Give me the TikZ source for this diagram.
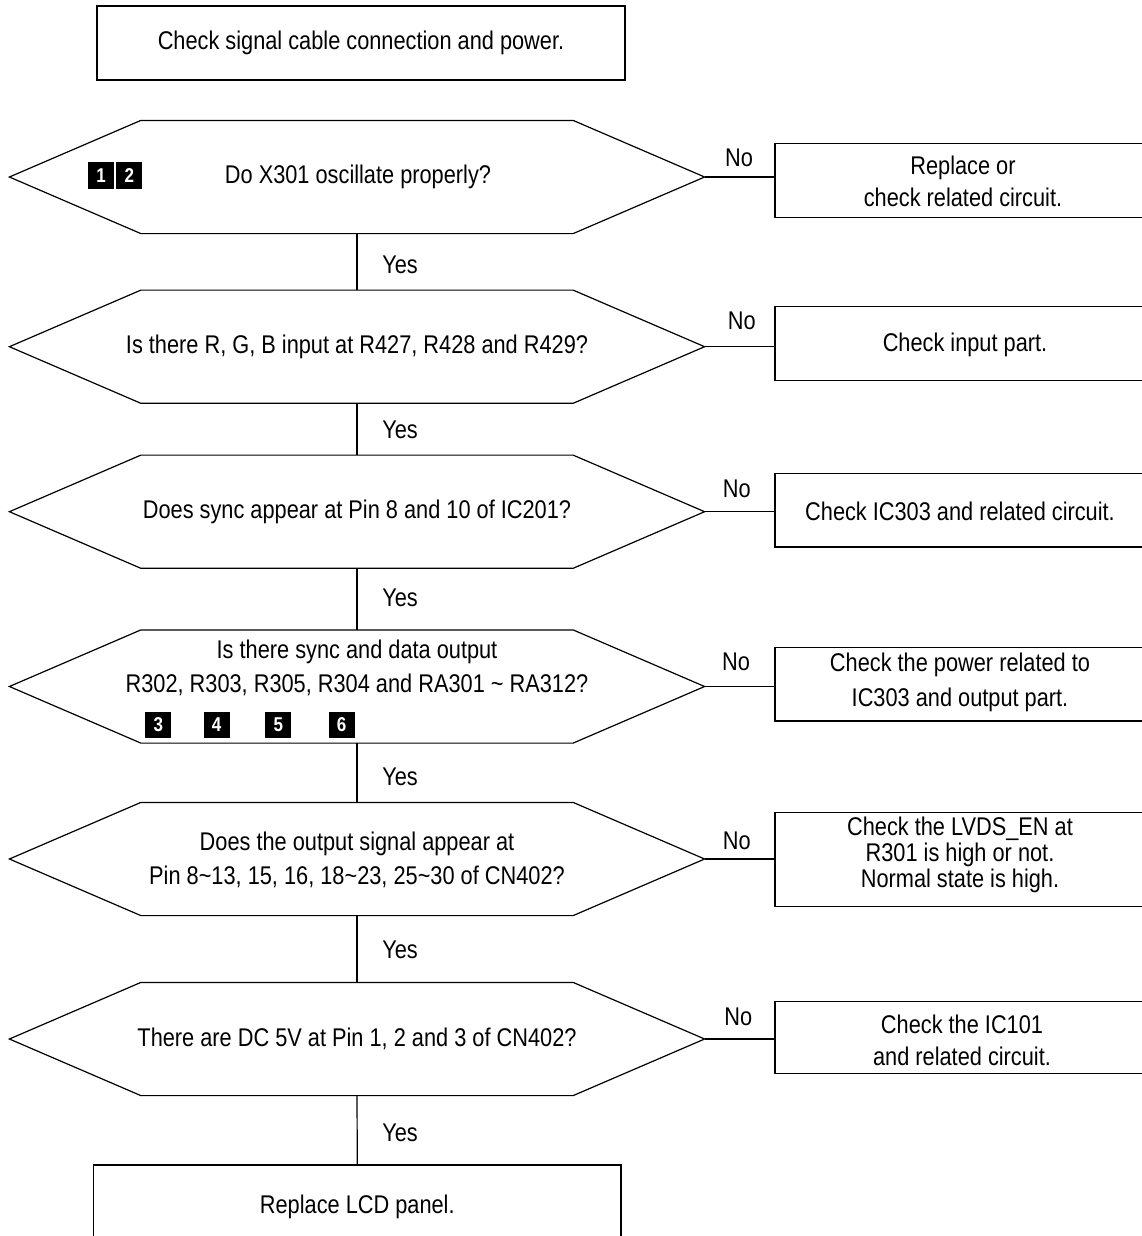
\documentclass[tikz,border=0pt]{standalone}
\usepackage{fontspec}
\setmainfont{Liberation Sans}[FakeStretch=0.85]
\begin{document}
\begin{tikzpicture}[x=0.75pt,y=-0.75pt,
  line width=0.9pt,
  every node/.style={font=\fontsize{19.2}{23}\selectfont, inner sep=0pt},
  hexnode/.style={minimum width=520.5pt, minimum height=84pt},
  boxnode/.style={draw, minimum width=281.25pt},
  txt/.style={align=center},
  badge/.style={fill=black, text=white, minimum width=19.5pt, minimum height=20pt, font=\fontsize{15}{15}\selectfont\bfseries},
  lbl/.style={}]
\clip (0,0) rectangle (1142,1236);
\fill[white] (0,0) rectangle (1142,1236);
% top box
\node[draw, minimum width=396pt, minimum height=55.5pt] (start) at (361,43) {Check signal cable connection and power.};
% hexagons
\foreach \n/\y in {h1/177, h2/346.7, h3/511.7, h4/686.5, h5/859, h6/1039}{
  \node[hexnode] (\n) at (357,\y) {};
  \draw ([xshift=0pt]\n.west) -- ([xshift=98.6pt]\n.north west) -- ([xshift=-98.6pt]\n.north east) -- (\n.east) -- ([xshift=-98.6pt]\n.south east) -- ([xshift=98.6pt]\n.south west) -- cycle;
}
\node[txt] (t1) at (358,177) {Do X301 oscillate properly?};
\node[txt] (t2) at (357,347) {Is there R, G, B input at R427, R428 and R429?};
\node[txt] (t3) at (357,512) {Does sync appear at Pin 8 and 10 of IC201?};
\node[txt, font=\fontsize{19.2}{25.5}\selectfont] (t4) at (357,668) {Is there sync and data output\\R302, R303, R305, R304 and RA301 \textasciitilde{} RA312?};
\node[txt, font=\fontsize{19.2}{25.5}\selectfont] (t5) at (357,860) {Does the output signal appear at\\Pin 8\textasciitilde13, 15, 16, 18\textasciitilde23, 25\textasciitilde30 of CN402?};
\node[txt] (t6) at (357,1039) {There are DC 5V at Pin 1, 2 and 3 of CN402?};
% badges
\node[badge] (k1) at (101,175.4) {1};
\node[badge] (k2) at (129.3,175.4) {2};
\node[badge] (k3) at (158.3,725) {3};
\node[badge] (k4) at (216.7,725) {4};
\node[badge] (k5) at (278.3,725) {5};
\node[badge] (k6) at (341.7,725) {6};
% right boxes
\node[boxnode, minimum height=55.8pt] (b1) at (962.5,180.5) {};
\node[boxnode, minimum height=55.5pt] (b2) at (962.5,343.7) {};
\node[boxnode, minimum height=55.3pt] (b3) at (962.5,510.2) {};
\node[boxnode, minimum height=55.3pt] (b4) at (962.5,684.2) {};
\node[boxnode, minimum height=70.8pt] (b5) at (962.5,859.5) {};
\node[boxnode, minimum height=53.7pt] (b6) at (962.5,1037.5) {};
\node[txt, font=\fontsize{19.2}{24}\selectfont] (s1) at (963,181) {Replace or\\check related circuit.};
\node[txt] (s2) at (965,345) {Check input part.};
\node[txt] (s3) at (960,511) {Check IC303 and related circuit.};
\node[txt, font=\fontsize{19.2}{26.25}\selectfont] (s4) at (960,682.5) {Check the power related to\\IC303 and output part.};
\node[txt, font=\fontsize{19.2}{19.5}\selectfont] (s5) at (960,855) {Check the LVDS\_EN at\\R301 is high or not.\\Normal state is high.};
\node[txt, font=\fontsize{19.2}{24}\selectfont] (s6) at (962,1040) {Check the IC101\\and related circuit.};
% bottom box
\node (lcd) at (357.3,1207) {Replace LCD panel.};
\coordinate (lcdtop) at (357.3,1165);
\draw (93.6,1240) -- (93.6,1165) -- (621,1165) -- (621,1240);
% No connectors
\foreach \i in {1,...,6}{
  \draw (h\i.east) -- (h\i.east -| b\i.west);
}
\node (n1) at (739,157.5) {No};
\node (n2) at (741.7,320.7) {No};
\node (n3) at (736.7,489) {No};
\node (n4) at (736,662.3) {No};
\node (n5) at (736.7,841) {No};
\node (n6) at (738.3,1017) {No};
% Yes connectors
\draw (h1.south) -- (h2.north);
\draw (h2.south) -- (h3.north);
\draw (h3.south) -- (h4.north);
\draw (h4.south) -- (h5.north);
\draw (h5.south) -- (h6.north);
\draw (h6.south) -- (lcdtop);
\node (y1) at (400,265) {Yes};
\node (y2) at (400,430) {Yes};
\node (y3) at (400,598) {Yes};
\node (y4) at (400,776.7) {Yes};
\node (y5) at (400,950) {Yes};
\node (y6) at (400,1133) {Yes};
\end{tikzpicture}
\end{document}
